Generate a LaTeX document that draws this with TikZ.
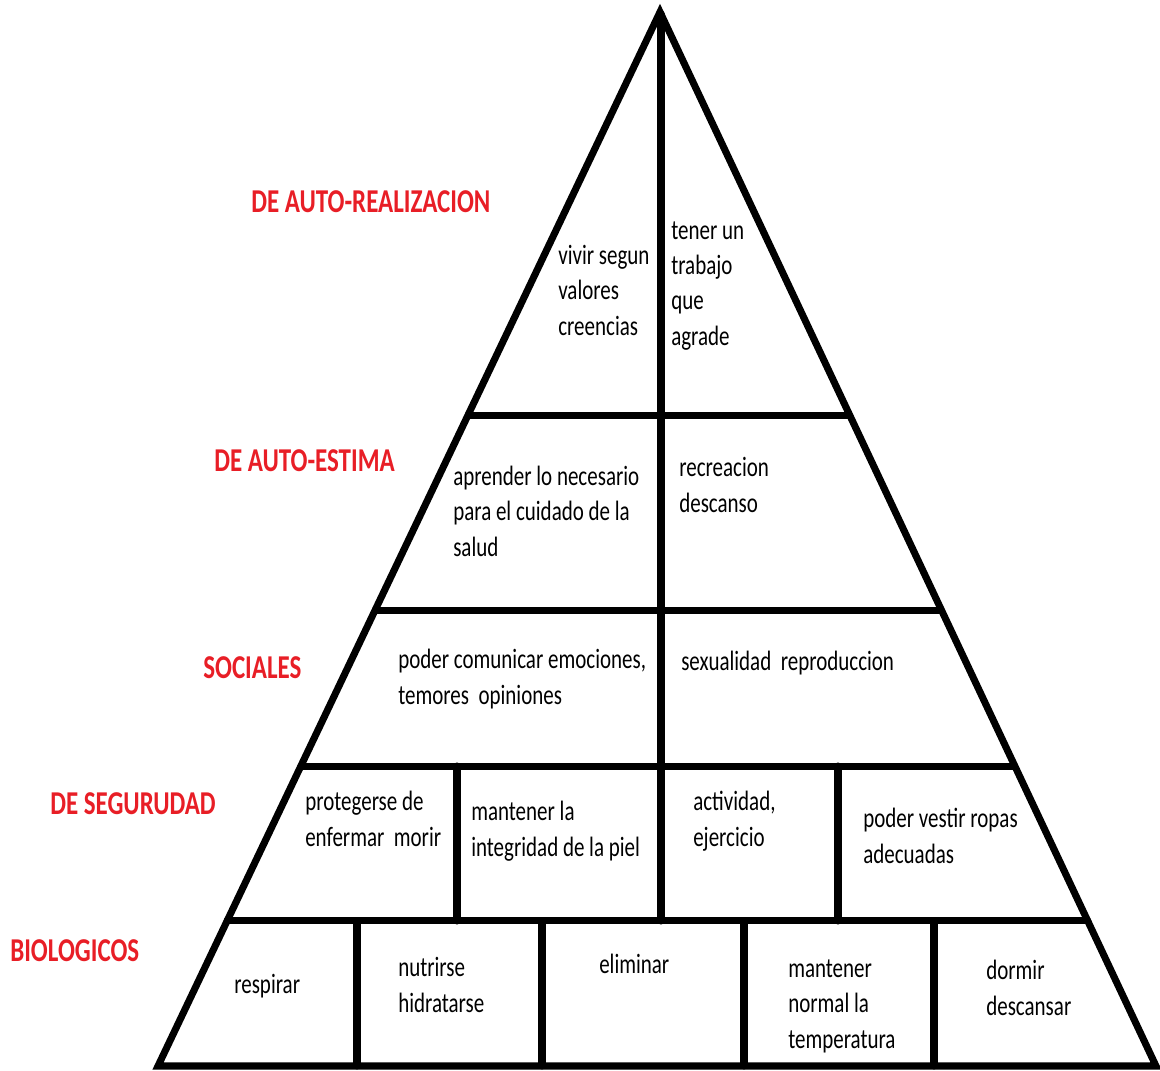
\documentclass[tikz,border=0pt]{standalone}
\usepackage{fontspec}
\setmainfont{Carlito}[FakeStretch=0.75]
\usetikzlibrary{calc}
\definecolor{labelred}{RGB}{232,30,38}

\begin{document}
\begin{tikzpicture}[x=0.025cm,y=-0.025cm,
    wall/.style={line width=5pt,line cap=round,line join=miter},
    need/.style={anchor=base west,align=left,inner sep=0pt,font=\fontsize{19.9}{24.9}\selectfont},
    level/.style={anchor=base west,inner sep=0pt,text=labelred,font=\fontsize{23.7}{27}\selectfont\bfseries}]
    \useasboundingbox (0,0) rectangle (1160,1071);
    % Corners of the pyramid
    \coordinate (apex) at (660,12);
    \coordinate (bl) at (158,1066);
    \coordinate (br) at (1156,1066);
    % Outline
    \draw[wall] (bl) -- (apex) -- (br) -- cycle;
    % Floors
    \draw[wall] ($(apex)!0.3824!(bl)$) -- ($(apex)!0.3824!(br)$);
    \draw[wall] ($(apex)!0.5674!(bl)$) -- ($(apex)!0.5674!(br)$);
    \draw[wall] ($(apex)!0.7154!(bl)$) -- ($(apex)!0.7154!(br)$);
    \draw[wall] ($(apex)!0.8624!(bl)$) -- ($(apex)!0.8624!(br)$);
    % Walls inside the floors
    \draw[wall] (661,14) -- (661,921);
    \draw[wall] (457,766) -- (457,921);
    \draw[wall] (838,766) -- (838,921);
    \foreach \xw in {357,542,744,934}
        \draw[wall] (\xw,921) -- (\xw,1066);

    % Level names
    \node[level] (autorreal) at (251,212) {DE AUTO-REALIZACION};
    \node[level] (autoestima) at (214,471) {DE AUTO-ESTIMA};
    \node[level] (sociales) at (203,678) {SOCIALES};
    \node[level] (seguridad) at (50,814) {DE SEGURUDAD};
    \node[level] (biologicos) at (10,961) {BIOLOGICOS};

    % Top floor (nodes sit on the baseline of their last line)
    \node[need] (valores) at (558,335) {vivir segun\\valores\\creencias};
    \node[need] (trabajo) at (671,345) {tener un\\trabajo\\que\\agrade};
    % Second floor
    \node[need] (aprender) at (453,556) {aprender lo necesario\\para el cuidado de la\\salud};
    \node[need] (recreacion) at (679,512) {recreacion\\descanso};
    % Third floor
    \node[need] (comunicar) at (398,704) {poder comunicar emociones,\\temores~~opiniones};
    \node[need] (sexualidad) at (681,670) {sexualidad~~reproduccion};
    % Fourth floor
    \node[need] (protegerse) at (305,846) {protegerse de\\enfermar~~morir};
    \node[need] (piel) at (471,856) {mantener la\\integridad de la piel};
    \node[need] (actividad) at (693,846) {actividad,\\ejercicio};
    \node[need] (vestir) at (863,863) {poder vestir ropas\\adecuadas};
    % Bottom floor
    \node[need] (respirar) at (234,993) {respirar};
    \node[need] (nutrirse) at (398,1012) {nutrirse\\hidratarse};
    \node[need] (eliminar) at (599,973) {eliminar};
    \node[need] (temperatura) at (788,1048) {mantener\\normal la\\temperatura};
    \node[need] (dormir) at (986,1015) {dormir\\descansar};
\end{tikzpicture}
\end{document}
